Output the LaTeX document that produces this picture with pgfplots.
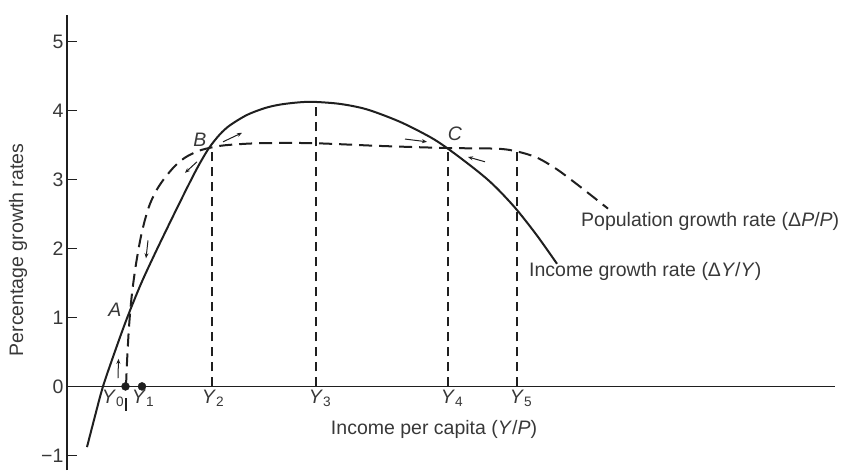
\documentclass[border=0pt]{standalone}
\usepackage{pgfplots}
\pgfplotsset{compat=1.18}
\usepackage{fontspec}
\setmainfont{Liberation Sans}
\usetikzlibrary{arrows.meta}
\definecolor{ink}{gray}{0.12}
\definecolor{txt}{gray}{0.22}
\newcommand{\fs}{\fontsize{19.5}{23}\selectfont}
\begin{document}
\begin{tikzpicture}[font=\fs]
\begin{axis}[
  scale only axis, width=768pt, height=455pt,
  xmin=67, xmax=835, ymin=-1.213, ymax=5.39,
  axis x line=middle, axis y line=left,
  axis line style={-, ink, line width=1.2pt},
  hide obscured x ticks=false, hide obscured y ticks=false,
  ytick={-1,0,1,2,3,4,5},
  yticklabels={−1,0,1,2,3,4,5},
  xtick={113,143,213,320,452,521},
  xticklabels={{\textit{Y}\textsubscript{0}},{\textit{Y}\textsubscript{1}},{\textit{Y}\textsubscript{2}},{\textit{Y}\textsubscript{3}},{\textit{Y}\textsubscript{4}},{\textit{Y}\textsubscript{5}}},
  x tick style={draw=none},
  y tick style={ink, line width=1.2pt},
  tick align=inside, major tick length=10pt,
  tick label style={font=\fs, text=txt},
  /pgf/number format/assume math mode=true,
  clip=false,
]
% Income growth rate (solid)
\addplot[ink, line width=2pt, smooth, tension=0.5] coordinates {
 (87,-0.88) (95,-0.43) (103,0) (115,0.51) (127,0.99) (141,1.49) (155,1.93)
 (171,2.41) (187,2.88) (198,3.19) (209,3.46) (220,3.66) (230,3.79) (247,3.94)
 (265,4.04) (280,4.09) (297,4.12) (313,4.13) (340,4.10) (367,4.02) (400,3.84)
 (430,3.62) (447,3.46) (470,3.21) (487,3.01) (500,2.83) (517,2.56) (537,2.19)
 (557,1.78)};
% Population growth rate (dashed)
\addplot[ink, line width=2pt, dash pattern=on 13pt off 7pt, smooth, tension=0.5] coordinates {
 (126,0) (127,0.35) (128.5,0.75) (130,1.05) (132,1.35) (135,1.68) (138,1.95)
 (141,2.18) (145,2.42) (150,2.65) (157,2.86) (165,3.03) (175,3.20) (185,3.32)
 (197,3.41) (209,3.46) (225,3.50) (260,3.53) (313,3.53) (380,3.49) (447,3.46)
 (497,3.45) (517,3.41) (537,3.32) (557,3.15) (580,2.90) (608,2.58)};
% vertical guides
\addplot[ink, line width=1.2pt, dash pattern=on 9pt off 6pt] coordinates {(212,0) (212,3.46)};
\addplot[ink, line width=1.2pt, dash pattern=on 9pt off 6pt] coordinates {(316,0) (316,4.13)};
\addplot[ink, line width=1.2pt, dash pattern=on 9pt off 6pt] coordinates {(448,0) (448,3.46)};
\addplot[ink, line width=1.2pt, dash pattern=on 9pt off 6pt] coordinates {(517,0) (517,3.41)};
\addplot[ink, line width=1.6pt] coordinates {(126,-0.17) (126,-0.36)};
% dots
\addplot[only marks, mark=*, mark size=4pt, ink] coordinates {(125.5,0) (142,0)};
% small arrows
\addplot[ink, line width=1pt, -{Stealth[length=5pt,width=4pt]}] coordinates {(118,0.12) (118.5,0.40)};
\addplot[ink, line width=1pt, -{Stealth[length=5pt,width=4pt]}] coordinates {(148,2.12) (146,1.86)};
\addplot[ink, line width=1pt, -{Stealth[length=5pt,width=4pt]}] coordinates {(197,3.26) (185,3.10)};
\addplot[ink, line width=1pt, -{Stealth[length=5pt,width=4pt]}] coordinates {(223,3.55) (242,3.68)};
\addplot[ink, line width=1pt, -{Stealth[length=5pt,width=4pt]}] coordinates {(405,3.59) (427,3.55)};
\addplot[ink, line width=1pt, -{Stealth[length=5pt,width=4pt]}] coordinates {(485,3.26) (468,3.33)};
% labels
\node[text=txt] at (axis cs:115,1.11) {\textit{A}};
\node[text=txt] at (axis cs:200,3.58) {\textit{B}};
\node[text=txt] at (axis cs:455,3.66) {\textit{C}};
\node[text=txt, anchor=west, inner sep=0pt] at (axis cs:581,2.39) {Population growth rate (Δ\textit{P}/\textit{P})};
\node[text=txt, anchor=west, inner sep=0pt] at (axis cs:529,1.67) {Income growth rate (Δ\textit{Y}/\textit{Y})};
\node[text=txt] at (axis cs:434,-0.63) {Income per capita (\textit{Y}/\textit{P})};
\node[text=txt, rotate=90] at (axis cs:18,1.98) {Percentage growth rates};
\coordinate (bl) at (axis cs:0,-1.213);
\coordinate (tr) at (axis cs:847,5.608);
\end{axis}
\pgfresetboundingbox
\path[use as bounding box] (bl) rectangle (tr);
\end{tikzpicture}
\end{document}
